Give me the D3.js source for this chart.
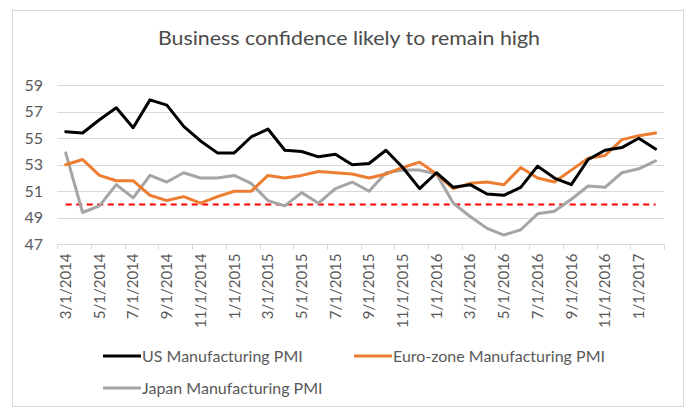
<!DOCTYPE html>
<html>
<head>
<meta charset="utf-8">
<script src="https://cdn.jsdelivr.net/npm/d3@7"></script>
<style>
  html, body { margin: 0; padding: 0; background: #fff; }
  text { font-family: Lato, "Open Sans", sans-serif; fill: #595959; }
</style>
</head>
<body>
<script>
"use strict";

// DATA
const months = [
  "3/1/2014", "4/1/2014", "5/1/2014", "6/1/2014", "7/1/2014", "8/1/2014",
  "9/1/2014", "10/1/2014", "11/1/2014", "12/1/2014", "1/1/2015", "2/1/2015",
  "3/1/2015", "4/1/2015", "5/1/2015", "6/1/2015", "7/1/2015", "8/1/2015",
  "9/1/2015", "10/1/2015", "11/1/2015", "12/1/2015", "1/1/2016", "2/1/2016",
  "3/1/2016", "4/1/2016", "5/1/2016", "6/1/2016", "7/1/2016", "8/1/2016",
  "9/1/2016", "10/1/2016", "11/1/2016", "12/1/2016", "1/1/2017", "2/1/2017"
];
const usPMI = [55.5, 55.4, 56.4, 57.3, 55.8, 57.9, 57.5, 55.9, 54.8, 53.9, 53.9, 55.1,
  55.7, 54.1, 54.0, 53.6, 53.8, 53.0, 53.1, 54.1, 52.8, 51.2, 52.4, 51.3,
  51.5, 50.8, 50.7, 51.3, 52.9, 52.0, 51.5, 53.4, 54.1, 54.3, 55.0, 54.2];
const euroPMI = [53.0, 53.4, 52.2, 51.8, 51.8, 50.7, 50.3, 50.6, 50.1, 50.6, 51.0, 51.0,
  52.2, 52.0, 52.2, 52.5, 52.4, 52.3, 52.0, 52.3, 52.8, 53.2, 52.3, 51.2,
  51.6, 51.7, 51.5, 52.8, 52.0, 51.7, 52.6, 53.5, 53.7, 54.9, 55.2, 55.4];
const japanPMI = [53.9, 49.4, 49.9, 51.5, 50.5, 52.2, 51.7, 52.4, 52.0, 52.0, 52.2, 51.6,
  50.3, 49.9, 50.9, 50.1, 51.2, 51.7, 51.0, 52.4, 52.6, 52.6, 52.3, 50.1,
  49.1, 48.2, 47.7, 48.1, 49.3, 49.5, 50.4, 51.4, 51.3, 52.4, 52.7, 53.3];
const threshold = months.map(() => 50);
const yTicks = [47, 49, 51, 53, 55, 57, 59];

const series = [
  { name: "US Manufacturing PMI", values: usPMI, color: "#000000" },
  { name: "Euro-zone Manufacturing PMI", values: euroPMI, color: "#ed7d31" },
  { name: "Japan Manufacturing PMI", values: japanPMI, color: "#a5a5a5" }
];

const width = 691, height = 408;
const margin = { top: 85.3, left: 57.3, right: 27, bottom: 163.7 };

const svg = d3.select("body").append("svg")
  .attr("width", width).attr("height", height);

// chart border
svg.append("rect")
  .attr("x", 12.5).attr("y", 10.5)
  .attr("width", 671).attr("height", 396)
  .attr("fill", "#fff").attr("stroke", "#d9d9d9");

svg.append("text")
  .attr("x", 349).attr("y", 45)
  .attr("text-anchor", "middle")
  .attr("font-size", 20)
  .attr("textLength", 382)
  .attr("lengthAdjust", "spacingAndGlyphs")
  .style("fill", "#4a4a4a")
  .text("Business confidence likely to remain high");

const x = d3.scaleBand()
  .domain(months)
  .range([margin.left, width - margin.right])
  .paddingInner(0).paddingOuter(0);
const xc = (d) => x(d) + x.bandwidth() / 2;

const y = d3.scaleLinear()
  .domain([47, 59])
  .range([height - margin.bottom, margin.top]);

// gridlines
svg.append("g")
  .selectAll("line")
  .data(yTicks.filter((d) => d > 47))
  .join("line")
  .attr("x1", margin.left).attr("x2", width - margin.right)
  .attr("y1", (d) => Math.round(y(d)) + 0.5).attr("y2", (d) => Math.round(y(d)) + 0.5)
  .attr("stroke", "#d9d9d9");

// y labels
svg.append("g")
  .attr("font-size", 16)
  .attr("text-anchor", "end")
  .selectAll("text")
  .data(yTicks)
  .join("text")
  .attr("x", 43)
  .attr("y", (d) => y(d))
  .attr("dy", "0.35em")
  .text((d) => d);

// x axis
const axisY = Math.round(y(47)) + 0.5;
svg.append("line")
  .attr("x1", margin.left).attr("x2", width - margin.right)
  .attr("y1", axisY).attr("y2", axisY)
  .attr("stroke", "#d9d9d9");

const tickIdx = d3.range(0, months.length + 1, 2);
svg.append("g")
  .selectAll("line")
  .data(tickIdx)
  .join("line")
  .attr("x1", (i) => Math.round(margin.left + i * x.bandwidth()) + 0.5)
  .attr("x2", (i) => Math.round(margin.left + i * x.bandwidth()) + 0.5)
  .attr("y1", axisY).attr("y2", axisY + 5)
  .attr("stroke", "#d9d9d9");

svg.append("g")
  .attr("font-size", 15)
  .attr("text-anchor", "end")
  .selectAll("text")
  .data(months.filter((d, i) => i % 2 === 0))
  .join("text")
  .attr("transform", (d) => `translate(${xc(d)},${axisY + 9}) rotate(-90)`)
  .attr("dy", "0.35em")
  .text((d) => d);

// lines
const line = d3.line()
  .x((d, i) => xc(months[i]))
  .y((d) => y(d));

svg.append("path")
  .datum(threshold)
  .attr("d", line)
  .attr("fill", "none")
  .attr("stroke", "#ff0000")
  .attr("stroke-width", 2)
  .attr("stroke-dasharray", "6,4.5");

svg.append("g")
  .selectAll("path")
  .data(series.slice().reverse())
  .join("path")
  .attr("d", (s) => line(s.values))
  .attr("fill", "none")
  .attr("stroke", (s) => s.color)
  .attr("stroke-width", 3)
  .attr("stroke-linejoin", "round")
  .attr("stroke-linecap", "round");

// legend
const legendPos = [
  { x: 103, y: 356 },
  { x: 354, y: 356 },
  { x: 103, y: 388 }
];
const legend = svg.append("g")
  .selectAll("g")
  .data(series)
  .join("g")
  .attr("transform", (d, i) => `translate(${legendPos[i].x},${legendPos[i].y})`);

legend.append("line")
  .attr("x1", 0).attr("x2", 38)
  .attr("stroke", (d) => d.color)
  .attr("stroke-width", 3);

legend.append("text")
  .attr("x", 39)
  .attr("dy", "0.35em")
  .attr("font-size", 16)
  .text((d) => d.name);
</script>
</body>
</html>
